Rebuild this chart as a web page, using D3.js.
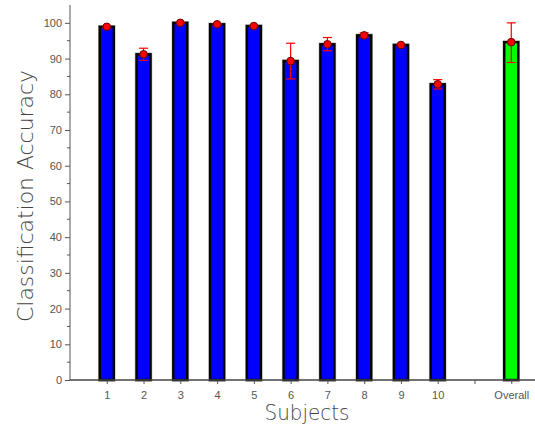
<!DOCTYPE html>
<html>
<head>
<meta charset="utf-8">
<script src="https://cdn.jsdelivr.net/npm/d3@7"></script>
<style>
  body { margin: 0; background: #fff; }
  svg { display: block; }
</style>
</head>
<body>
<svg width="535" height="427"></svg>
<script>
// data
const categories = ["1", "2", "3", "4", "5", "6", "7", "8", "9", "10", "", "Overall"];
const accuracy = [98.9, 91.2, 100, 99.6, 99.1, 89.3, 94.0, 96.5, 93.8, 82.8, null, 94.6];
const errUpper = [99.2, 92.9, 100.2, 99.8, 99.3, 94.3, 95.9, 97.2, 94.0, 84.1, null, 100.0];
const errLower = [98.6, 89.5, 99.8, 99.4, 98.9, 84.3, 92.2, 96.0, 93.6, 81.5, null, 88.9];
const yTicks = [0, 10, 20, 30, 40, 50, 60, 70, 80, 90, 100];

const svg = d3.select("svg");
const mLeft = 70, mBottom = 380, mTop = 5, mRight = 537;

const x = d3.scaleLinear().domain([0, 12.7]).range([mLeft, mRight]);
const y = d3.scaleLinear().domain([0, 105]).range([mBottom, mTop]);

const rows = categories.map((c, i) => ({
    cat: c, pos: i + 1, v: accuracy[i], hi: errUpper[i], lo: errLower[i],
    color: c === "Overall" ? "#00ff00" : "#0000ff"
})).filter(d => d.v !== null);

const barW = 14;

// bars: soft grey halo under a black outline
svg.append("g")
    .selectAll("rect")
    .data(rows)
    .join("rect")
    .attr("x", d => x(d.pos) - barW / 2)
    .attr("y", d => y(d.v))
    .attr("width", barW)
    .attr("height", d => y(0) - y(d.v))
    .attr("fill", "none")
    .attr("stroke", "#bbb")
    .attr("stroke-width", 3.6);

svg.append("g")
    .selectAll("rect")
    .data(rows)
    .join("rect")
    .attr("x", d => x(d.pos) - barW / 2)
    .attr("y", d => y(d.v))
    .attr("width", barW)
    .attr("height", d => y(0) - y(d.v))
    .attr("fill", d => d.color)
    .attr("stroke", "#000")
    .attr("stroke-width", 2.4);

// axes
const yAxis = d3.axisLeft(y).tickValues(yTicks).tickSize(5).tickPadding(3);
const gy = svg.append("g").attr("transform", `translate(${mLeft},0)`).call(yAxis);
gy.select(".domain").remove();
gy.append("line").attr("x1", 0).attr("x2", 0).attr("y1", y(0)).attr("y2", y(105))
    .attr("stroke", "#555").attr("stroke-width", 1);
// minor ticks
gy.append("g").selectAll("line")
    .data(d3.range(5, 105, 10))
    .join("line")
    .attr("x1", -3).attr("x2", 0)
    .attr("y1", d => y(d)).attr("y2", d => y(d))
    .attr("stroke", "#555");

const xAxis = d3.axisBottom(x)
    .tickValues(d3.range(1, 13))
    .tickFormat(d => categories[d - 1])
    .tickSize(4).tickPadding(7);
const gx = svg.append("g").attr("transform", `translate(0,${mBottom})`).call(xAxis);
gx.select(".domain").remove();
gx.append("line").attr("x1", mLeft).attr("x2", 535).attr("y1", 0).attr("y2", 0)
    .attr("stroke", "#444").attr("stroke-width", 1.3);

[gx, gy].forEach(g => {
    g.selectAll(".tick line").attr("stroke", "#555");
    g.selectAll(".tick text")
        .attr("fill", "#555")
        .style("font-family", "'Liberation Sans', Arial, sans-serif")
        .style("font-size", "11px");
});

// error bars
const eb = svg.append("g").attr("stroke", "#ff0000").attr("stroke-width", 1.2);
eb.selectAll("line.v").data(rows).join("line").attr("class", "v")
    .attr("x1", d => x(d.pos)).attr("x2", d => x(d.pos))
    .attr("y1", d => y(d.hi)).attr("y2", d => y(d.lo));
eb.selectAll("line.t").data(rows).join("line").attr("class", "t")
    .attr("x1", d => x(d.pos) - 4.5).attr("x2", d => x(d.pos) + 4.5)
    .attr("y1", d => y(d.hi)).attr("y2", d => y(d.hi));
eb.selectAll("line.b").data(rows).join("line").attr("class", "b")
    .attr("x1", d => x(d.pos) - 4.5).attr("x2", d => x(d.pos) + 4.5)
    .attr("y1", d => y(d.lo)).attr("y2", d => y(d.lo));

// mean markers
svg.append("g")
    .selectAll("circle")
    .data(rows)
    .join("circle")
    .attr("cx", d => x(d.pos))
    .attr("cy", d => y(d.v))
    .attr("r", 3.8)
    .attr("fill", "#ff0000")
    .attr("stroke", "#600")
    .attr("stroke-width", 1);

// axis titles
svg.append("text")
    .attr("transform", "translate(33,196) rotate(-90)")
    .attr("text-anchor", "middle")
    .attr("fill", "#444")
    .attr("textLength", 252)
    .attr("lengthAdjust", "spacingAndGlyphs")
    .style("font-family", "'DejaVu Sans', sans-serif")
    .style("font-size", "21px")
    .style("font-weight", "200")
    .text("Classification Accuracy");

svg.append("text")
    .attr("x", 307)
    .attr("y", 420)
    .attr("text-anchor", "middle")
    .attr("fill", "#444")
    .attr("textLength", 85)
    .attr("lengthAdjust", "spacingAndGlyphs")
    .style("font-family", "'DejaVu Sans', sans-serif")
    .style("font-size", "21px")
    .style("font-weight", "200")
    .text("Subjects");
</script>
</body>
</html>
